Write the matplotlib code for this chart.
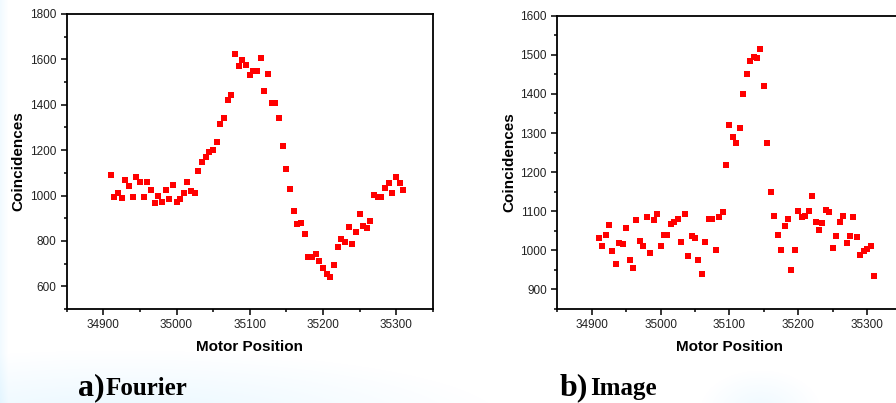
import matplotlib
matplotlib.use("Agg")
import matplotlib.pyplot as plt
import numpy as np
from matplotlib.ticker import MultipleLocator

# motor positions (same scan for both panels)
positions = list(range(34910, 35311, 5))

# a) Fourier
fourier = [
    1090, 995, 1010, 990, 1068, 1042, 995, 1082, 1060, 994,
    1060, 1025, 969, 997, 973, 1025, 986, 1048, 971, 984,
    1010, 1058, 1020, 1013, 1110, 1150, 1171, 1191, 1201, 1238,
    1314, 1341, 1421, 1445, 1624, 1570, 1597, 1575, 1530, 1550,
    1550, 1604, 1460, 1536, 1410, 1410, 1343, 1220, 1117, 1029,
    932, 874, 878, 830, 727, 730, 741, 713, 680, 656,
    643, 694, 775, 810, 797, 860, 787, 841, 920, 867,
    856, 888, 1003, 993, 993, 1032, 1054, 1013, 1083, 1057,
    1025,
]

# b) Image
image = [
    1032, 1011, 1038, 1064, 998, 964, 1018, 1015, 1058, 975,
    956, 1078, 1025, 1012, 1086, 993, 1077, 1093, 1010, 1040,
    1038, 1068, 1072, 1081, 1022, 1093, 985, 1036, 1032, 975,
    939, 1022, 1079, 1081, 1002, 1086, 1097, 1218, 1320, 1290,
    1274, 1313, 1400, 1450, 1483, 1495, 1493, 1514, 1419, 1274,
    1148, 1089, 1038, 1002, 1063, 1079, 949, 1000, 1100, 1086,
    1087, 1100, 1138, 1072, 1051, 1070, 1103, 1097, 1007, 1036,
    1072, 1087, 1019, 1036, 1086, 1035, 989, 998, 1004, 1011,
    934,
]

plt.rcParams['font.family'] = ['Liberation Sans', 'DejaVu Sans']

W, H = 896, 403
fig = plt.figure(figsize=(W / 100, H / 100), dpi=100)

# faint bluish tint of the page behind the captions
bg = fig.add_axes([0, 0, 1, 1], zorder=-10)
yy, xx = np.mgrid[0:H, 0:W]
glow = np.clip(1 - np.hypot((xx - 120) / 380, (yy - 420) / 70), 0, 1) * 0.07
glow += np.clip(1 - np.hypot((xx - 760) / 60, (yy - 410) / 40), 0, 1) * 0.05
glow += np.clip(1 - xx / 8, 0, 1) * 0.04
rgb = np.ones((H, W, 3))
rgb[..., 0] -= glow * 1.3
rgb[..., 1] -= glow * 0.45
bg.imshow(np.clip(rgb, 0, 1), aspect='auto', interpolation='bilinear')
bg.axis('off')


def px_axes(x0, y0, x1, y1):
    # axes box from pixel corners (top-left origin)
    return fig.add_axes([x0 / W, 1 - y1 / H, (x1 - x0) / W, (y1 - y0) / H])


def style(ax, ylim, ymajor):
    ax.set_xlim(34850, 35350)
    ax.set_ylim(*ylim)
    ax.patch.set_alpha(0)
    ax.xaxis.set_major_locator(MultipleLocator(100))
    ax.xaxis.set_minor_locator(MultipleLocator(50))
    ax.yaxis.set_major_locator(MultipleLocator(ymajor))
    ax.yaxis.set_minor_locator(MultipleLocator(ymajor / 2))
    ax.tick_params(which='both', direction='out', top=False, right=False,
                   width=1.1, colors='black', labelcolor='#222222', labelsize=8.5)
    ax.tick_params(which='major', length=4.5, pad=3)
    ax.tick_params(which='minor', length=2.5)
    for s in ax.spines.values():
        s.set_linewidth(1.3)
    ax.set_xlabel('Motor Position', fontsize=11, fontweight='bold', labelpad=6)
    ax.set_ylabel('Coincidences', fontsize=11, fontweight='bold', labelpad=3)


ax1 = px_axes(66.7, 14, 432.7, 309)
ax1.plot(positions, fourier, 's', color='#ff0000', ms=4.8, mew=0)
style(ax1, (500, 1800), 200)
ax1.set_yticks([600, 800, 1000, 1200, 1400, 1600, 1800])

ax2 = px_axes(557.3, 15.7, 901.6, 309)
ax2.plot(positions, image, 's', color='#ff0000', ms=4.6, mew=0)
style(ax2, (850, 1600), 100)
ax2.set_yticks([900, 1000, 1100, 1200, 1300, 1400, 1500, 1600])

# panel captions
cap = dict(family=['Liberation Serif', 'DejaVu Serif'], fontweight='bold',
           va='baseline', color='black')
fig.text(78 / W, 1 - 395 / H, 'a)', fontsize=23, **cap)
fig.text(106 / W, 1 - 395 / H, 'Fourier', fontsize=18, **cap)
fig.text(560 / W, 1 - 395 / H, 'b)', fontsize=23, **cap)
fig.text(590 / W, 1 - 395 / H, 'Image', fontsize=18, **cap)

fig.savefig('out.png', dpi=100)
